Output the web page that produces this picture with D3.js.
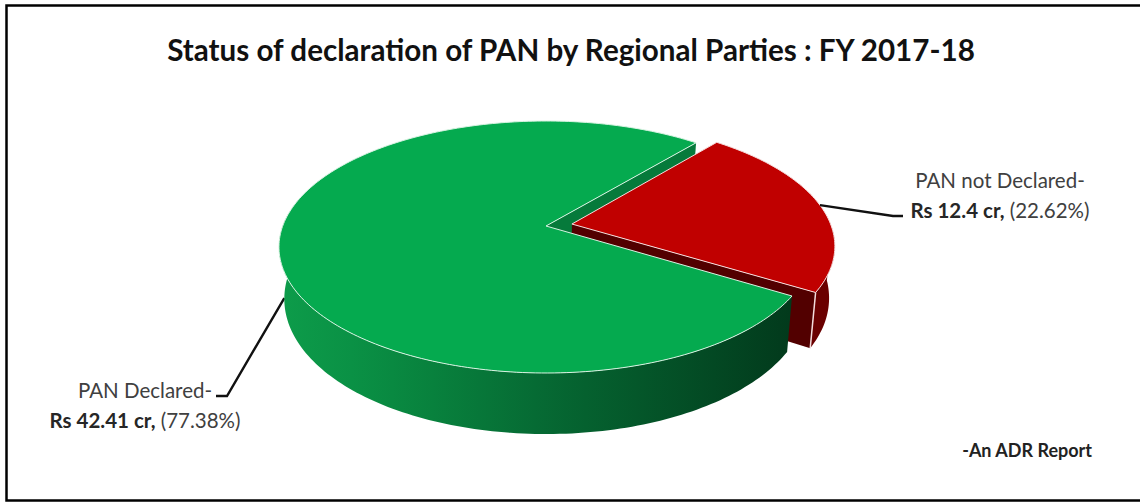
<!DOCTYPE html>
<html>
<head>
<meta charset="utf-8">
<script src="https://cdn.jsdelivr.net/npm/d3@7"></script>
<style>
    html, body { margin: 0; padding: 0; background: #fff; overflow: hidden; }
    svg { display: block; }
    text { font-family: Lato, "Open Sans", sans-serif; fill: #404040; }
</style>
</head>
<body>
<svg id="chart" width="1140" height="502"></svg>
<script>
// Chart data
const categories = ['PAN not Declared-', 'PAN Declared-'];
const amounts = [12.4, 42.41];
const amountLabels = ['Rs 12.4 cr,', 'Rs 42.41 cr,'];
const shareLabels = ['(22.62%)', '(77.38%)'];
const titleText = 'Status of declaration of PAN by Regional Parties : FY 2017-18';
const noteText = '-An ADR Report';

const svg = d3.select('#chart');
const defs = svg.append('defs');

// Frame, the right side is cropped off the picture
svg.append('rect')
    .attr('x', 6.5).attr('y', 5.5)
    .attr('width', 1150).attr('height', 495)
    .attr('fill', '#fff')
    .attr('stroke', '#000')
    .attr('stroke-width', 2.5);

// Perspective projection of the pie disc, apex of the pie at (cx, cy)
const cx = 546, cy = 226;
const a = 263.3, b = 122.5, k = 1 / 6;
const depthScale = 0.98;
const explode = 0.1, redRadius = 0.985;

function project(u, v, depth) {
    const w = 1 + k * v;
    const s = 1 + (depthScale - 1) * depth;
    // the near side of the wall looks taller than the far side
    const drop = 50 - 14 * v;
    return [cx + s * a * u / w, cy - (s * b * v / w) + drop * depth];
}

function rimPoints(angle0, angle1, off, depth, radius = 1) {
    const n = Math.max(2, Math.ceil(Math.abs(angle1 - angle0) / 0.02));
    return d3.range(n + 1).map(i => {
        const t = angle0 + (angle1 - angle0) * i / n;
        return project(off[0] + radius * Math.sin(t), off[1] + radius * Math.cos(t), depth);
    });
}

const line = d3.line();
const closed = pts => line(pts) + 'Z';

// First slice starts 40 degrees round from twelve o'clock
const pieGen = d3.pie().sort(null)
    .startAngle(40 * Math.PI / 180)
    .endAngle((40 + 360) * Math.PI / 180);
const arcs = pieGen(amounts);

const redArc = arcs[0], greenArc = arcs[1];
const redMid = (redArc.startAngle + redArc.endAngle) / 2;
const redOff = [explode * Math.sin(redMid), explode * Math.cos(redMid)];
const noOff = [0, 0];

// Green side gradient, bright on the left and falling to dark at the cut
const grad = defs.append('linearGradient')
    .attr('id', 'greenSide')
    .attr('gradientUnits', 'userSpaceOnUse')
    .attr('x1', 280).attr('x2', 790).attr('y1', 0).attr('y2', 0);
[[0, '#0d9c4a'], [0.14, '#0a9145'], [0.3, '#08813d'], [0.5, '#066b34'], [0.7, '#04572a'], [1, '#023a1c']].forEach(s => {
    grad.append('stop').attr('offset', s[0]).attr('stop-color', s[1]);
});

const g = svg.append('g');

// Cut face of the green slice at its start angle, seen through the gap
const gs = greenArc.endAngle;
const greenFace = [
    project(0, 0, 0),
    project(Math.sin(gs), Math.cos(gs), 0),
    project(Math.sin(gs), Math.cos(gs), 1),
    project(0, 0, 1)
];
g.append('path').attr('d', closed(greenFace)).attr('fill', '#067a3b');

// Red slice walls
const redWallFrom = Math.PI / 2 + 0.05;
const redWall = rimPoints(redWallFrom, redArc.endAngle, redOff, 0, redRadius)
    .concat(rimPoints(redArc.endAngle, redWallFrom, redOff, 1, redRadius));
g.append('path').attr('d', closed(redWall)).attr('fill', '#6a0000');

const redEnd = [redRadius * Math.sin(redArc.endAngle) + redOff[0], redRadius * Math.cos(redArc.endAngle) + redOff[1]];
const redFace = [
    project(redOff[0], redOff[1], 0),
    project(redEnd[0], redEnd[1], 0),
    project(redEnd[0], redEnd[1], 1),
    project(redOff[0], redOff[1], 1)
];
g.append('path').attr('d', closed(redFace)).attr('fill', '#520000');
g.append('path')
    .attr('d', line([project(redEnd[0], redEnd[1], 0), project(redEnd[0], redEnd[1], 1)]))
    .attr('stroke', '#f3dcdc').attr('stroke-width', 1.5);

// Red top
const redTop = [project(redOff[0], redOff[1], 0)].concat(rimPoints(redArc.startAngle, redArc.endAngle, redOff, 0, redRadius));
g.append('path').attr('d', closed(redTop))
    .attr('fill', '#c00000')
    .attr('stroke', '#f6dede').attr('stroke-width', 1).attr('stroke-linejoin', 'round');

// Leaders go under the green wall so they stop at its edge
const redAnchor = project(redOff[0] + redRadius * Math.sin(redMid), redOff[1] + redRadius * Math.cos(redMid), 0);
const greenMid = (greenArc.startAngle + greenArc.endAngle) / 2;
const greenAnchor = project(Math.sin(greenMid), Math.cos(greenMid), 1);
const leaders = [
    [redAnchor, [893, 216], [903, 216]],
    [greenAnchor, [227, 396], [216, 396]]
];
leaders.forEach(pts => {
    svg.append('path').attr('d', line(pts))
        .attr('fill', 'none').attr('stroke', '#111').attr('stroke-width', 2.4);
});

const g2 = svg.append('g');

// Green wall runs round the front, from the cut to the far left
const greenWallTo = 1.5 * Math.PI + 0.12;
const greenWall = rimPoints(greenArc.startAngle, greenWallTo, noOff, 0)
    .concat(rimPoints(greenWallTo, greenArc.startAngle, noOff, 1));
g2.append('path').attr('d', closed(greenWall)).attr('fill', 'url(#greenSide)');

// Green top
const greenTop = [project(0, 0, 0)].concat(rimPoints(greenArc.startAngle, greenArc.endAngle, noOff, 0));
g2.append('path').attr('d', closed(greenTop))
    .attr('fill', '#05aa4f')
    .attr('stroke', '#d8f3e2').attr('stroke-width', 1).attr('stroke-linejoin', 'round');

// Title and notes
svg.append('text').attr('x', 571).attr('y', 61)
    .attr('text-anchor', 'middle')
    .attr('font-size', 29.6).attr('font-weight', 700)
    .style('fill', '#111')
    .text(titleText);

svg.append('text').attr('x', 1092).attr('y', 457)
    .attr('text-anchor', 'end')
    .attr('font-size', 18).attr('font-weight', 700)
    .style('fill', '#222')
    .text(noteText);

// Slice labels, two centred lines each
const labelPos = [[1000, 188], [145, 398]];
categories.forEach((name, i) => {
    const t = svg.append('text')
        .attr('x', labelPos[i][0]).attr('y', labelPos[i][1])
        .attr('text-anchor', 'middle').attr('font-size', 20.5);
    t.append('tspan').text(name);
    const t2 = svg.append('text')
        .attr('x', labelPos[i][0]).attr('y', labelPos[i][1] + 30)
        .attr('text-anchor', 'middle').attr('font-size', 20.5);
    t2.append('tspan').attr('font-weight', 700).style('fill', '#262626').text(amountLabels[i]);
    t2.append('tspan').text(' ' + shareLabels[i]);
});
</script>
</body>
</html>
